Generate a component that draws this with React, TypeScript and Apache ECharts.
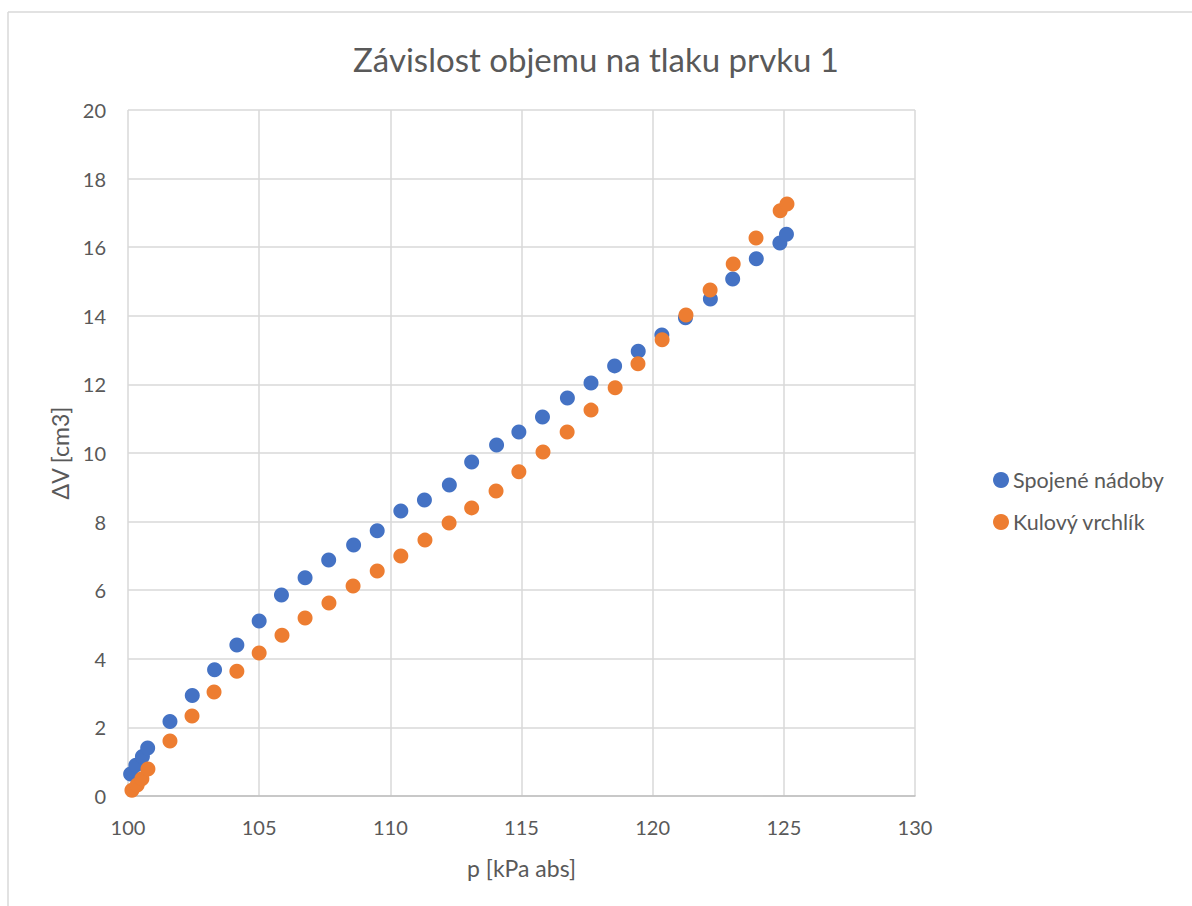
import React, { useEffect, useRef } from "react";
import * as echarts from "echarts";

const title = "Závislost objemu na tlaku prvku 1";
const xName = "p [kPa abs]";
const yName = "ΔV [cm3]";
const seriesNames = ["Spojené nádoby", "Kulový vrchlík"];

const spojeneX = [100.1, 100.3, 100.55, 100.75, 101.6, 102.45, 103.3, 104.15, 105.0, 105.85, 106.75, 107.65, 108.6, 109.5, 110.4, 111.3, 112.25, 113.1, 114.05, 114.9, 115.8, 116.75, 117.65, 118.55, 119.45, 120.35, 121.25, 122.2, 123.05, 123.95, 124.85, 125.1];
const spojeneY = [0.64, 0.9, 1.15, 1.4, 2.17, 2.93, 3.68, 4.4, 5.1, 5.86, 6.36, 6.88, 7.32, 7.73, 8.31, 8.63, 9.07, 9.74, 10.23, 10.61, 11.05, 11.6, 12.04, 12.54, 12.97, 13.44, 13.94, 14.49, 15.07, 15.66, 16.12, 16.38];

const kulovyX = [100.15, 100.35, 100.53, 100.76, 101.6, 102.44, 103.28, 104.15, 105.0, 105.87, 106.75, 107.66, 108.58, 109.5, 110.4, 111.32, 112.24, 113.1, 114.03, 114.9, 115.82, 116.74, 117.65, 118.57, 119.44, 120.36, 121.27, 122.19, 123.07, 123.94, 124.86, 125.12];
const kulovyY = [0.17, 0.32, 0.5, 0.79, 1.6, 2.33, 3.03, 3.64, 4.17, 4.69, 5.19, 5.63, 6.12, 6.56, 7.0, 7.46, 7.96, 8.4, 8.89, 9.45, 10.03, 10.61, 11.25, 11.9, 12.6, 13.3, 14.02, 14.75, 15.51, 16.27, 17.06, 17.26];

const colors = ["#4472C4", "#ED7D31"];
const FONT = "Lato, 'Open Sans', sans-serif";

export default function App() {
  const ref = useRef<HTMLDivElement>(null);
  useEffect(() => {
    if (!ref.current) return;
    const chart = echarts.init(ref.current, null, { renderer: "svg" });
    const zip = (xs: number[], ys: number[]) => xs.map((x, i) => [x, ys[i]]);
    chart.setOption({
      animation: false,
      backgroundColor: "#ffffff",
      title: {
        text: title,
        left: "center",
        top: 37,
        textStyle: { fontFamily: FONT, fontSize: 33, fontWeight: "normal", color: "#595959" },
      },
      graphic: [
        { type: "line", shape: { x1: 8, y1: 12, x2: 1192, y2: 12 }, style: { stroke: "#d9d9d9", lineWidth: 1.5 } },
        { type: "line", shape: { x1: 8, y1: 12, x2: 8, y2: 906 }, style: { stroke: "#d9d9d9", lineWidth: 1.5 } },
      ],
      legend: {
        orient: "vertical",
        left: 988,
        top: 464,
        itemGap: 20,
        itemWidth: 16,
        itemHeight: 16,
        icon: "circle",
        textStyle: { fontFamily: FONT, fontSize: 21.5, color: "#595959", padding: [0, 0, 0, -1] },
        data: seriesNames,
      },
      grid: { left: 128, right: 1192 - 915, top: 110, bottom: 906 - 796, containLabel: false },
      xAxis: {
        type: "value",
        min: 100,
        max: 130,
        interval: 5,
        name: xName,
        nameLocation: "middle",
        nameGap: 60,
        nameTextStyle: { fontFamily: FONT, fontSize: 23, color: "#595959" },
        axisLine: { show: true, lineStyle: { color: "#bfbfbf", width: 1.5 } },
        axisTick: { show: false },
        axisLabel: { fontFamily: FONT, fontSize: 20, color: "#595959", margin: 21 },
        splitLine: { show: true, lineStyle: { color: "#d9d9d9", width: 1.5 } },
      },
      yAxis: {
        type: "value",
        min: 0,
        max: 20,
        interval: 2,
        name: yName,
        nameLocation: "middle",
        nameGap: 56,
        nameTextStyle: { fontFamily: FONT, fontSize: 23, color: "#595959" },
        axisLine: { show: false },
        axisTick: { show: false },
        axisLabel: { fontFamily: FONT, fontSize: 20, color: "#595959", margin: 22 },
        splitLine: { show: true, lineStyle: { color: "#d9d9d9", width: 1.5 } },
      },
      series: [
        {
          name: seriesNames[0],
          type: "scatter",
          symbol: "circle",
          symbolSize: 15,
          itemStyle: { color: colors[0], opacity: 1 },
          data: zip(spojeneX, spojeneY),
        },
        {
          name: seriesNames[1],
          type: "scatter",
          symbol: "circle",
          symbolSize: 15,
          itemStyle: { color: colors[1], opacity: 1 },
          data: zip(kulovyX, kulovyY),
        },
      ],
    });
    return () => chart.dispose();
  }, []);
  return <div ref={ref} style={{ position: "absolute", left: 0, top: 0, width: 1192, height: 906 }} />;
}
